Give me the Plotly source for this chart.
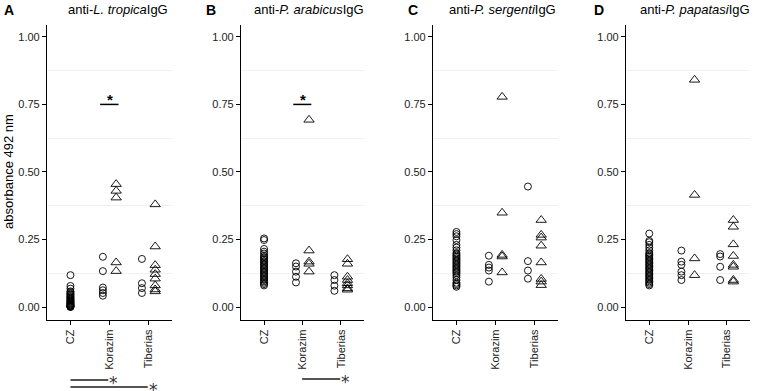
import plotly.graph_objects as go

W, H = 757, 391
groups = ["CZ", "Korazim", "Tiberias"]

# ---- data (absorbance 492 nm) ----
# panel A: anti-L. tropica IgG
A_cz = [0.118, 0.078, 0.068, 0.058, 0.055, 0.05, 0.047, 0.044, 0.04, 0.037, 0.034, 0.031,
        0.028, 0.025, 0.022, 0.02, 0.018, 0.015, 0.013, 0.011, 0.009, 0.007, 0.005, 0.004,
        0.003, 0.002, 0.001, 0.0]
A_kor_c = [0.186, 0.133, 0.072, 0.062, 0.052, 0.042]
A_kor_t = [0.455, 0.43, 0.405, 0.165, 0.133]
A_tib_c = [0.178, 0.088, 0.07, 0.052]
A_tib_t = [0.38, 0.224, 0.155, 0.138, 0.122, 0.105, 0.08, 0.065, 0.058]

# panel B: anti-P. arabicus IgG
B_cz = [0.254, 0.248, 0.215, 0.205, 0.198, 0.19, 0.185, 0.18, 0.175, 0.17, 0.165, 0.16,
        0.155, 0.15, 0.145, 0.14, 0.135, 0.13, 0.125, 0.12, 0.115, 0.11, 0.105, 0.1,
        0.095, 0.09, 0.085, 0.08]
B_kor_c = [0.162, 0.15, 0.131, 0.112, 0.091]
B_kor_t = [0.693, 0.209, 0.168, 0.16, 0.131]
B_tib_c = [0.118, 0.1, 0.079, 0.06]
B_tib_t = [0.177, 0.16, 0.112, 0.1, 0.088, 0.08, 0.069, 0.064]

# panel C: anti-P. sergenti IgG
C_cz = [0.278, 0.27, 0.262, 0.248, 0.23, 0.22, 0.21, 0.2, 0.195, 0.19, 0.185, 0.18, 0.175,
        0.17, 0.165, 0.16, 0.155, 0.15, 0.145, 0.14, 0.135, 0.13, 0.125, 0.118, 0.11,
        0.1, 0.09, 0.085, 0.08, 0.075]
C_kor_c = [0.19, 0.156, 0.146, 0.135, 0.094]
C_kor_t = [0.778, 0.349, 0.193, 0.187, 0.128]
C_tib_c = [0.446, 0.17, 0.135, 0.105]
C_tib_t = [0.322, 0.267, 0.257, 0.227, 0.165, 0.104, 0.094, 0.081]

# panel D: anti-P. papatasi IgG
D_cz = [0.272, 0.245, 0.24, 0.23, 0.22, 0.21, 0.2, 0.195, 0.19, 0.185, 0.18, 0.175, 0.17,
        0.165, 0.16, 0.155, 0.15, 0.145, 0.14, 0.135, 0.13, 0.125, 0.12, 0.115, 0.11,
        0.105, 0.1, 0.095, 0.09, 0.085, 0.08]
D_kor_c = [0.209, 0.168, 0.156, 0.131, 0.118, 0.1]
D_kor_t = [0.841, 0.415, 0.18, 0.118]
D_tib_c = [0.196, 0.187, 0.149, 0.1]
D_tib_t = [0.322, 0.297, 0.232, 0.189, 0.156, 0.149, 0.1, 0.094]

panels = [
    ("A", "anti-<i>L. tropica</i>IgG", A_cz, A_kor_c, A_kor_t, A_tib_c, A_tib_t),
    ("B", "anti-<i>P. arabicus</i>IgG", B_cz, B_kor_c, B_kor_t, B_tib_c, B_tib_t),
    ("C", "anti-<i>P. sergenti</i>IgG", C_cz, C_kor_c, C_kor_t, C_tib_c, C_tib_t),
    ("D", "anti-<i>P. papatasi</i>IgG", D_cz, D_kor_c, D_kor_t, D_tib_c, D_tib_t),
]

# ---- layout geometry (pixels) ----
px_x = [(47, 172), (241, 364), (433, 558), (626, 750)]
title_x = [66, 252, 447, 638]
letter_x = [9, 211, 413, 599]
y_top, y_bot = 25, 320
DODGE = 0.17

FONT = "Liberation Sans, Arial, sans-serif"
fig = go.Figure()
layout = dict(width=W, height=H, margin=dict(l=0, r=0, t=0, b=0, autoexpand=False),
              paper_bgcolor="white", plot_bgcolor="white", showlegend=False,
              font=dict(family=FONT, color="#222", size=11))
annotations = []
shapes = []

circ = dict(symbol="circle-open", size=7, color="black", line=dict(width=0.9, color="black"))
tri = dict(symbol="triangle-up-open", size=9, color="black", line=dict(width=0.9, color="black"))

for i, (letter, title, cz, kc, kt, tc, tt) in enumerate(panels):
    n = "" if i == 0 else str(i + 1)
    xa, ya = "x" + n, "y" + n
    x0, x1 = px_x[i]
    # points
    fig.add_trace(go.Scatter(x=[1] * len(cz), y=cz, mode="markers", marker=circ,
                             xaxis=xa, yaxis=ya, hoverinfo="y"))
    fig.add_trace(go.Scatter(x=[2 - DODGE] * len(kc) + [3 - DODGE] * len(tc), y=kc + tc,
                             mode="markers", marker=circ, xaxis=xa, yaxis=ya, hoverinfo="y"))
    fig.add_trace(go.Scatter(x=[2 + DODGE] * len(kt) + [3 + DODGE] * len(tt), y=kt + tt,
                             mode="markers", marker=tri, xaxis=xa, yaxis=ya, hoverinfo="y"))
    layout["xaxis" + n] = dict(
        domain=[x0 / W, x1 / W], range=[0.4, 3.6], anchor=ya, automargin=False,
        tickvals=[1, 2, 3], ticktext=groups, tickangle=-90,
        showline=True, linecolor="black", linewidth=1.2, ticks="outside",
        ticklen=4, tickcolor="black", showgrid=False, zeroline=False,
        tickfont=dict(size=11, color="#222", family=FONT))
    layout["yaxis" + n] = dict(
        domain=[1 - y_bot / H, 1 - y_top / H], range=[-0.048, 1.044], anchor=xa,
        automargin=False,
        tickvals=[0, 0.25, 0.5, 0.75, 1.0], ticktext=["0.00", "0.25", "0.50", "0.75", "1.00"],
        showline=True, linecolor="black", linewidth=1.2, ticks="outside",
        ticklen=4, tickcolor="black", showgrid=False, zeroline=False,
        minor=dict(tickvals=[0.125, 0.375, 0.625, 0.875], showgrid=True,
                   gridcolor="#f0f0f0", gridwidth=1, ticks=""),
        tickfont=dict(size=11, color="#222", family=FONT))
    annotations.append(dict(text=title, x=title_x[i] / W, y=1 - 10 / H, xref="paper",
                            yref="paper", showarrow=False, xanchor="left", yanchor="middle",
                            font=dict(size=13, color="black", family=FONT)))
    annotations.append(dict(text="<b>%s</b>" % letter, x=letter_x[i] / W, y=1 - 10 / H,
                            xref="paper", yref="paper", showarrow=False, xanchor="center",
                            yanchor="middle", font=dict(size=14, color="black", family=FONT)))

# y-axis title
annotations.append(dict(text="absorbance 492 nm", x=8 / W, y=1 - 172 / H, xref="paper",
                        yref="paper", showarrow=False, textangle=-90, xanchor="center",
                        yanchor="middle", font=dict(size=13, color="black", family=FONT)))

# in-panel significance bars (Korazim, panels A and B)
for n in ["", "2"]:
    shapes.append(dict(type="line", xref="x" + n, yref="y" + n, x0=1.76, x1=2.23,
                       y0=0.75, y1=0.75, line=dict(color="black", width=1.5)))
    annotations.append(dict(text="<b>*</b>", x=2.0, y=0.75, xref="x" + n, yref="y" + n,
                            showarrow=False, yanchor="bottom", yshift=-6,
                            font=dict(size=15, color="black", family=FONT)))

# bottom comparison bars
bottom = [("", 1.0, 1.97, 380), ("", 1.0, 2.98, 387), ("2", 1.99, 2.98, 379)]
for n, a, b, py in bottom:
    shapes.append(dict(type="line", xref="x" + n, yref="paper", x0=a, x1=b,
                       y0=1 - py / H, y1=1 - py / H, line=dict(color="#555", width=2)))
    annotations.append(dict(text="*", x=b, y=1 - py / H, xref="x" + n, yref="paper",
                            showarrow=False, xanchor="left", yanchor="middle", xshift=-1,
                            yshift=-3, font=dict(size=17, color="#333", family="DejaVu Sans")))

layout["annotations"] = annotations
layout["shapes"] = shapes
fig.update_layout(**layout)
fig.write_html("out.html", config={"displayModeBar": False},
               post_script="document.body.style.margin='0';document.body.style.overflow='hidden';")
